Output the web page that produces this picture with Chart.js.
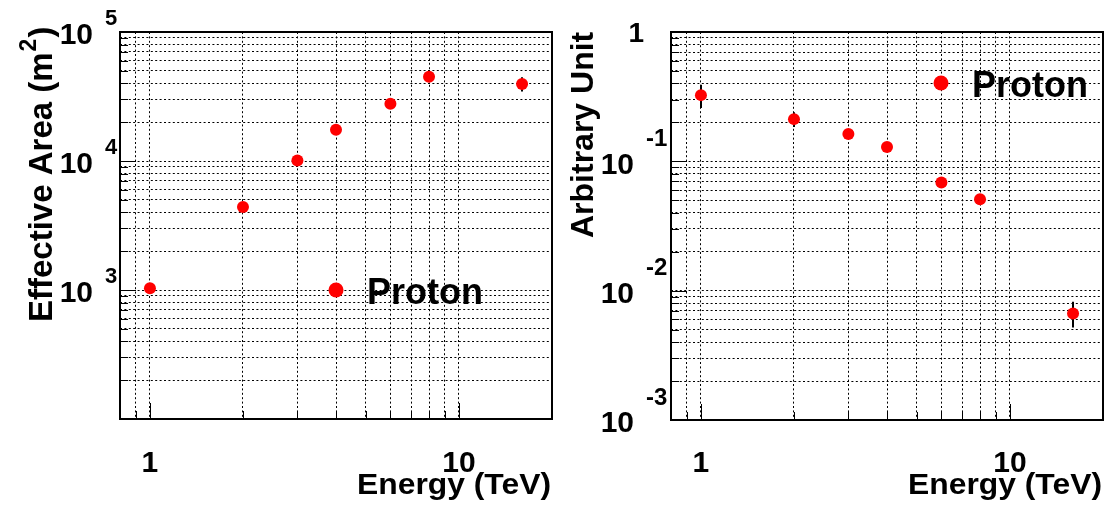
<!DOCTYPE html>
<html>
<head>
<meta charset="utf-8">
<script src="https://cdn.jsdelivr.net/npm/chart.js@4.4.1/dist/chart.umd.min.js"></script>
<style>
  html, body { margin: 0; padding: 0; background: #fff; }
  #wrap { position: relative; width: 1109px; height: 514px; }
  #wrap canvas { position: absolute; left: 0; top: 0; }
</style>
</head>
<body>
<div id="wrap">
  <canvas id="areaChart" width="1109" height="514"></canvas>
  <canvas id="fluxChart" width="1109" height="514"></canvas>
</div>
<script>
// Energy bins (TeV)
const energies = [1, 2, 3, 4, 6, 8, 16];

// Effective area (m^2) with error range
const areaValues = [1030, 4400, 10100, 17500, 27800, 45000, 39500];
const areaLow    = [1000, 4300, 9900, 17200, 27300, 44200, 34500];
const areaHigh   = [1060, 4500, 10300, 17800, 28300, 45800, 44500];

// Spectrum in arbitrary units with error range
const fluxValues = [0.325, 0.212, 0.163, 0.129, 0.0687, 0.051, 0.00667];
const fluxLow    = [0.259, 0.1845, 0.155, 0.123, 0.0655, 0.0485, 0.0052];
const fluxHigh   = [0.391, 0.2395, 0.171, 0.135, 0.0719, 0.0535, 0.0082];

// Axis ranges and labelled ticks
const energyRange = [0.8, 20];
const areaRange = [100, 1e5];
const fluxRange = [1e-3, 1];
const energyTickLabels = [1, 10];
const areaDecadeExponents = [3, 4, 5];
const fluxDecadeExponents = [0, -1, -2, -3];

const seriesName = 'Proton';
const xTitle = 'Energy (TeV)';
const FONT = '"Liberation Sans", Arial, Helvetica, sans-serif';
const RED = '#ff0000';

// every m x 10^k strictly inside (lo, hi): positions of the grid lines
function logGrid(lo, hi) {
  const out = [];
  for (let e = Math.floor(Math.log10(lo)); e <= Math.ceil(Math.log10(hi)); e++) {
    for (let m = 1; m <= 9; m++) {
      const v = parseFloat((m * Math.pow(10, e)).toPrecision(6));
      if (v > lo * 1.0001 && v < hi * 0.9999) out.push(v);
    }
  }
  return out;
}
function isDecade(v) {
  const l = Math.log10(v);
  return Math.abs(l - Math.round(l)) < 1e-6;
}

function text(ctx, s, x, y, size, align, width) {
  ctx.save();
  ctx.font = 'bold ' + size + 'px ' + FONT;
  ctx.textAlign = align || 'left';
  ctx.textBaseline = 'alphabetic';
  ctx.fillStyle = '#000';
  ctx.translate(x, y);
  if (width) {
    const w = ctx.measureText(s).width;
    ctx.scale(width / w, 1);
  }
  ctx.fillText(s, 0, 0);
  ctx.restore();
}

// Frame, tick marks, tick labels, titles, error bars and legend for one panel
function panelPlugin(spec) {
  return {
    id: 'panel',
    beforeDatasetsDraw(chart) {
      const ctx = chart.ctx, xs = chart.scales.x, ys = chart.scales.y;
      ctx.save();
      ctx.strokeStyle = '#000';
      ctx.lineWidth = 2;
      energies.forEach((e, i) => {
        const px = Math.round(xs.getPixelForValue(e));
        ctx.beginPath();
        ctx.moveTo(px, ys.getPixelForValue(spec.low[i]));
        ctx.lineTo(px, ys.getPixelForValue(spec.high[i]));
        ctx.stroke();
      });
      ctx.restore();
    },
    afterDraw(chart) {
      const ctx = chart.ctx, a = chart.chartArea, xs = chart.scales.x, ys = chart.scales.y;
      ctx.save();
      // tick marks
      ctx.strokeStyle = '#000';
      ctx.lineWidth = 1;
      logGrid(spec.yRange[0], spec.yRange[1]).forEach(v => {
        const py = Math.round(ys.getPixelForValue(v)) + 0.5;
        const len = isDecade(v) ? 16 : 8;
        ctx.beginPath(); ctx.moveTo(a.left, py); ctx.lineTo(a.left + len, py); ctx.stroke();
      });
      logGrid(energyRange[0], energyRange[1]).forEach(v => {
        const px = Math.round(xs.getPixelForValue(v)) + 0.5;
        const len = isDecade(v) ? 16 : 8;
        ctx.beginPath(); ctx.moveTo(px, a.bottom); ctx.lineTo(px, a.bottom - len); ctx.stroke();
      });
      // frame
      ctx.lineWidth = 2;
      ctx.strokeRect(a.left, a.top, a.right - a.left, a.bottom - a.top);
      ctx.restore();

      // x tick labels
      energyTickLabels.forEach(v => {
        text(ctx, String(v), xs.getPixelForValue(v), 472, 30, 'center');
      });
      // y tick labels: 10 with raised exponent
      spec.exponents.forEach(k => {
        const py = ys.getPixelForValue(Math.pow(10, k));
        if (k === 0) {
          text(ctx, '1', spec.oneX, py + 9.5, 28, 'right');
        } else {
          text(ctx, '10', spec.tenX, py + 1.5 + 10.7, 30, 'right');
          text(ctx, String(k), spec.expX, py + spec.expDy + 0.358 * spec.expSize, spec.expSize, 'left');
        }
      });
      // x title
      text(ctx, xTitle, a.right - 1, 494, 29, 'right', 194);
      // y title
      spec.drawYTitle(ctx);
      // legend
      const lx = a.left + spec.legend[0], ly = a.top + spec.legend[1];
      ctx.save();
      ctx.fillStyle = RED;
      ctx.beginPath(); ctx.arc(lx, ly, 7.5, 0, Math.PI * 2); ctx.fill();
      ctx.restore();
      text(ctx, seriesName, lx + 31, ly + 13.5, 36, 'left');
    }
  };
}

function makeChart(id, values, yRange, padding, spec) {
  const gx = logGrid(energyRange[0], energyRange[1]);
  const gy = logGrid(yRange[0], yRange[1]);
  const axisBase = {
    type: 'logarithmic',
    ticks: { display: false },
    grid: { color: '#000', lineWidth: 1, drawTicks: false },
    border: { display: false, dash: [2, 2.4] }
  };
  return new Chart(document.getElementById(id), {
    type: 'scatter',
    data: {
      datasets: [{
        label: seriesName,
        data: energies.map((e, i) => ({ x: e, y: values[i] })),
        backgroundColor: RED,
        borderWidth: 0,
        pointRadius: 6,
        pointHoverRadius: 6
      }]
    },
    options: {
      responsive: false,
      animation: false,
      devicePixelRatio: 1,
      events: [],
      layout: { padding },
      plugins: { legend: { display: false }, tooltip: { enabled: false } },
      scales: {
        x: Object.assign({}, axisBase, {
          min: energyRange[0], max: energyRange[1],
          afterBuildTicks: s => { s.ticks = gx.map(v => ({ value: v })); }
        }),
        y: Object.assign({}, axisBase, {
          min: yRange[0], max: yRange[1],
          afterBuildTicks: s => { s.ticks = gy.map(v => ({ value: v })); }
        })
      }
    },
    plugins: [panelPlugin(Object.assign({ yRange }, spec))]
  });
}

// Left panel: effective area
makeChart('areaChart', areaValues, areaRange,
  { left: 120, top: 32, right: 557, bottom: 95 },
  {
    low: areaLow, high: areaHigh,
    exponents: areaDecadeExponents,
    tenX: 93, expX: 105, expDy: -14.5, expSize: 22, oneX: 93,
    legend: [216, 258],
    drawYTitle(ctx) {
      ctx.save();
      ctx.translate(52, 322);
      ctx.rotate(-Math.PI / 2);
      ctx.fillStyle = '#000';
      ctx.textBaseline = 'alphabetic';
      ctx.textAlign = 'left';
      ctx.font = 'bold 33px ' + FONT;
      const main = 'Effective Area (m';
      ctx.fillText(main, 0, 0);
      let x = ctx.measureText(main).width;
      ctx.font = 'bold 23px ' + FONT;
      ctx.fillText('2', x + 1, -16);
      x += ctx.measureText('2').width + 2;
      ctx.font = 'bold 33px ' + FONT;
      ctx.fillText(')', x, 0);
      ctx.restore();
    }
  });

// Right panel: spectrum
makeChart('fluxChart', fluxValues, fluxRange,
  { left: 671, top: 32, right: 6, bottom: 94 },
  {
    low: fluxLow, high: fluxHigh,
    exponents: fluxDecadeExponents,
    tenX: 634, expX: 646, expDy: -24, expSize: 24, oneX: 644,
    legend: [270, 51],
    drawYTitle(ctx) {
      ctx.save();
      ctx.translate(593, 238);
      ctx.rotate(-Math.PI / 2);
      ctx.fillStyle = '#000';
      ctx.textBaseline = 'alphabetic';
      ctx.font = 'bold 32px ' + FONT;
      ctx.fillText('Arbitrary Unit', 0, 0);
      ctx.restore();
    }
  });
</script>
</body>
</html>
